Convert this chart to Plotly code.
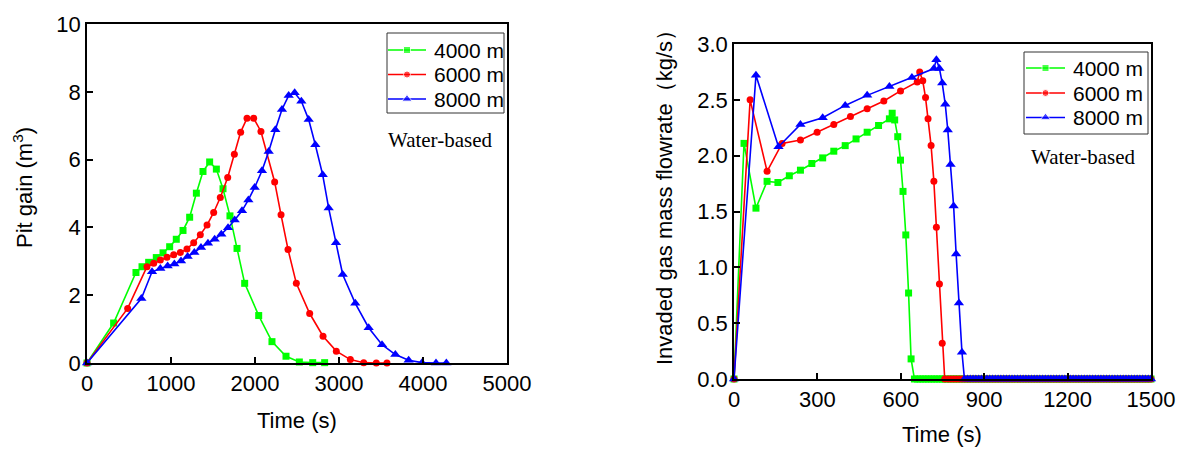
import plotly.graph_objects as go

# ---- left panel: pit gain (m3) vs time (s)
pit_t_4000 = [0, 317, 583, 655, 734, 825, 905, 984, 1063, 1143, 1222, 1302, 1381, 1460,
              1540, 1619, 1702, 1786, 1877, 2044, 2202, 2369, 2528, 2687, 2829]
pit_v_4000 = [0, 1.18, 2.67, 2.84, 2.97, 3.11, 3.25, 3.43, 3.65, 3.91, 4.30, 5.01, 5.65, 5.93,
              5.72, 5.14, 4.34, 3.38, 2.35, 1.40, 0.63, 0.20, 0.03, 0.01, 0.01]

pit_t_6000 = [0, 484, 714, 794, 873, 952, 1032, 1111, 1190, 1270, 1349, 1429, 1508, 1587,
              1675, 1754, 1829, 1905, 1984, 2071, 2234, 2310, 2393, 2492, 2651, 2810, 2968,
              3135, 3294, 3444, 3571]
pit_v_6000 = [0, 1.61, 2.84, 2.94, 3.04, 3.12, 3.19, 3.26, 3.36, 3.55, 3.78, 4.07, 4.44, 4.88,
              5.47, 6.16, 6.81, 7.22, 7.22, 6.83, 5.34, 4.37, 3.35, 2.35, 1.46, 0.79, 0.35,
              0.10, 0.01, 0, 0]

pit_t_8000 = [0, 647, 774, 873, 960, 1040, 1119, 1198, 1278, 1357, 1440, 1520, 1599, 1679,
              1758, 1845, 1921, 1996, 2083, 2163, 2242, 2321, 2401, 2472, 2552, 2639, 2718,
              2806, 2877, 2964, 3044, 3194, 3353, 3512, 3671, 3829, 3988, 4155, 4278]
pit_v_8000 = [0, 1.90, 2.69, 2.79, 2.86, 2.92, 3.01, 3.14, 3.26, 3.41, 3.53, 3.65, 3.80, 3.99,
              4.22, 4.49, 4.81, 5.18, 5.67, 6.24, 6.88, 7.48, 7.89, 7.97, 7.72, 7.18, 6.44,
              5.55, 4.57, 3.55, 2.61, 1.76, 1.04, 0.54, 0.25, 0.08, 0.01, 0, 0]

# ---- right panel: invaded gas mass flowrate (kg/s) vs time (s)
gas_t_4000 = [0, 36, 79, 119, 158, 199, 239, 280, 319, 359, 400, 439, 479, 520, 559, 569,
              578, 589, 599, 608, 618, 628, 637, 649]
gas_v_4000 = [0, 2.11, 1.53, 1.77, 1.76, 1.82, 1.87, 1.93, 1.98, 2.04, 2.09, 2.15, 2.21, 2.27,
              2.33, 2.38, 2.32, 2.17, 1.96, 1.68, 1.29, 0.77, 0.18, 0]

gas_t_6000 = [0, 58, 119, 173, 239, 299, 359, 419, 479, 539, 599, 659, 668, 679, 689, 698,
              709, 719, 728, 739, 749, 758]
gas_v_6000 = [0, 2.50, 1.86, 2.11, 2.14, 2.21, 2.28, 2.35, 2.42, 2.49, 2.58, 2.66, 2.75, 2.67,
              2.52, 2.33, 2.09, 1.77, 1.36, 0.85, 0.32, 0]

gas_t_8000 = [0, 79, 160, 239, 319, 400, 479, 559, 640, 719, 728, 739, 749, 760, 769, 779,
              790, 799, 809, 820, 829]
gas_v_8000 = [0, 2.72, 2.08, 2.28, 2.34, 2.45, 2.54, 2.62, 2.70, 2.78, 2.86, 2.78, 2.65, 2.46,
              2.23, 1.92, 1.55, 1.12, 0.68, 0.24, 0]

# after the kick stops, every case stays at zero (output every 10 s up to 1500 s)
tail_t_4000 = list(range(660, 1501, 10))
tail_t_6000 = list(range(770, 1501, 10))
tail_t_8000 = list(range(840, 1501, 10))

labels = ["4000 m", "6000 m", "8000 m"]
colors = ["#00FF00", "#FF0000", "#0000FF"]
symbols = ["square", "circle", "triangle-up"]
sizes = [7, 7, 9]

SANS = "Liberation Sans, Arial, sans-serif"
SERIF = "Liberation Serif, Times New Roman, serif"
W, H = 1181, 452

fig = go.Figure()

left = [(pit_t_4000, pit_v_4000), (pit_t_6000, pit_v_6000), (pit_t_8000, pit_v_8000)]
right = [(gas_t_4000 + tail_t_4000, gas_v_4000 + [0.0] * len(tail_t_4000)),
         (gas_t_6000 + tail_t_6000, gas_v_6000 + [0.0] * len(tail_t_6000)),
         (gas_t_8000 + tail_t_8000, gas_v_8000 + [0.0] * len(tail_t_8000))]

for panel, (xa, ya) in ((left, ("x", "y")), (right, ("x2", "y2"))):
    for i in range(3):
        fig.add_trace(go.Scatter(
            x=panel[i][0], y=panel[i][1], name=labels[i], mode="lines+markers",
            line=dict(color=colors[i], width=1.6),
            marker=dict(symbol=symbols[i], size=sizes[i], color=colors[i]),
            cliponaxis=False, xaxis=xa, yaxis=ya, showlegend=False))

# legend boxes drawn by hand on a pixel-sized overlay so the rows can sit as tight as the original
def draw_legend(box, rows, line_x, text_x):
    fig.add_shape(type="rect", xref="x3", yref="y3", x0=box[0], y0=box[1], x1=box[2],
                  y1=box[3], line=dict(color="#333", width=1), fillcolor="white", layer="below")
    for i, ry in enumerate(rows):
        fig.add_trace(go.Scatter(
            x=[line_x[0], (line_x[0] + line_x[1]) / 2, line_x[1]], y=[ry, ry, ry],
            mode="lines+markers", line=dict(color=colors[i], width=1.6),
            marker=dict(symbol=symbols[i], size=[0, sizes[i], 0], color=colors[i]),
            xaxis="x3", yaxis="y3", showlegend=False, hoverinfo="skip"))
        fig.add_annotation(text=labels[i], x=text_x, y=ry, xref="x3", yref="y3",
                           xanchor="left", yanchor="middle", showarrow=False,
                           font=dict(family=SANS, size=21, color="black"))


ax = dict(showline=True, linecolor="black", linewidth=1.5, mirror=True,
          ticks="inside", ticklen=6, tickwidth=1.5, tickcolor="black",
          showgrid=False, zeroline=False, automargin=False,
          tickfont=dict(family=SANS, size=22, color="black"))

fig.update_layout(
    width=W, height=H,
    margin=dict(l=0, r=0, t=0, b=0, autoexpand=False),
    paper_bgcolor="white", plot_bgcolor="rgba(0,0,0,0)",
    xaxis=dict(ax, domain=[87 / W, 507 / W], range=[0, 5000], dtick=1000, anchor="y"),
    yaxis=dict(ax, domain=[1 - 363 / H, 1 - 24 / H], range=[0, 10], dtick=2, anchor="x"),
    xaxis2=dict(ax, domain=[734 / W, 1151 / W], range=[0, 1500], dtick=300, anchor="y2"),
    yaxis2=dict(ax, domain=[1 - 379 / H, 1 - 44 / H], range=[0, 3], dtick=0.5,
                tickformat=".1f", anchor="x2"),
    xaxis3=dict(domain=[0, 1], range=[0, W], visible=False, fixedrange=True, anchor="y3"),
    yaxis3=dict(domain=[0, 1], range=[H, 0], visible=False, fixedrange=True, anchor="x3"),
)

draw_legend((387, 33, 504, 113), (50, 74.5, 99), (388, 426), 432)
draw_legend((1024, 52, 1148, 134), (68, 93, 117.5), (1026, 1065), 1071)


def label(text, px, py, font, angle=0):
    fig.add_annotation(text=text, x=px / W, y=1 - py / H, xref="paper", yref="paper",
                       xanchor="center", yanchor="middle", showarrow=False,
                       textangle=angle, font=font)


title_font = dict(family=SANS, size=22, color="black")
label("Time (s)", 297, 420, title_font)
label("Time (s)", 942, 434, title_font)
label("Pit gain (m<sup>3</sup>)", 23, 188, title_font, -90)
label("Invaded gas mass flowrate（kg/s）", 664, 192, title_font, -90)

wb_font = dict(family=SERIF, size=21, color="black")
label("Water-based", 440, 140, wb_font)
label("Water-based", 1083, 157, wb_font)

# page body has a default 8px margin, drop it so the figure sits at the window's corner
fig.write_html("out.html", config={"displayModeBar": False},
               post_script="document.body.style.margin='0';")
